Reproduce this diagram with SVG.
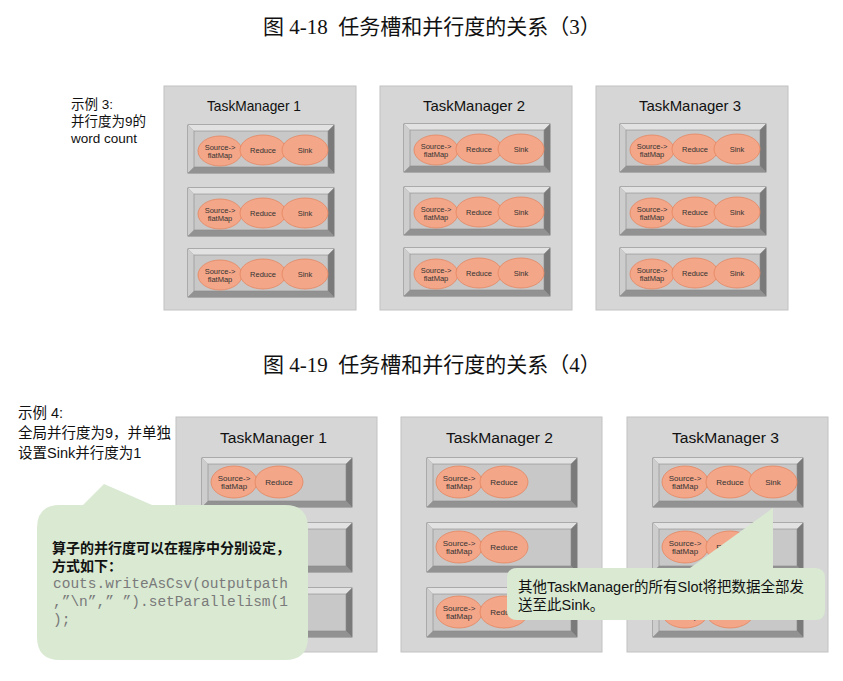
<svg xmlns="http://www.w3.org/2000/svg" xmlns:xlink="http://www.w3.org/1999/xlink" width="843" height="681" viewBox="0 0 843 681">
<style>
.cap{font-family:"Liberation Serif","Noto Sans CJK SC",serif;font-size:21px;fill:#111}
.tm{fill:#d6d6d6;stroke:#c2c2c2;stroke-width:1}
.tt{font-family:"Liberation Sans",Arial,sans-serif;fill:#111}
.bt{fill:#e2e2e2}.bl{fill:#cdcdcd}.br{fill:#7a7a7a}.bb{fill:#929292}
.in{fill:#c8c8c8;stroke:#8a8a8a;stroke-width:.6}
.op{fill:#f4a688;stroke:#e58560;stroke-width:.8}
.ot{font-family:"Liberation Sans",Arial,sans-serif;font-size:7.5px;fill:#333;text-anchor:middle}
.ot2{font-family:"Liberation Sans",Arial,sans-serif;font-size:8px;fill:#333;text-anchor:middle}
.lab{font-family:"Liberation Sans","Noto Sans CJK SC",sans-serif;fill:#111}
.call{fill:#d9e9d2}
.code{font-family:"Liberation Mono","Courier New",monospace;font-size:14.5px;fill:#7a7a7a}
</style>
<defs>
<g id="slotT">
<rect width="146" height="48" fill="#9a9a9a" stroke="#6a6a6a" stroke-width="0.8"/>
<polygon points="0,0 146,0 140,6 6,6" class="bt"/>
<polygon points="0,0 6,6 6,42 0,48" class="bl"/>
<polygon points="146,0 146,48 140,42 140,6" class="br"/>
<polygon points="0,48 146,48 140,42 6,42" class="bb"/>
<rect x="6" y="6" width="134" height="36" class="in"/>
</g>
<g id="slotB">
<rect width="150" height="49" fill="#9a9a9a" stroke="#6a6a6a" stroke-width="0.8"/>
<polygon points="0,0 150,0 144,6 6,6" class="bt"/>
<polygon points="0,0 6,6 6,43 0,49" class="bl"/>
<polygon points="150,0 150,49 144,43 144,6" class="br"/>
<polygon points="0,49 150,49 144,43 6,43" class="bb"/>
<rect x="6" y="6" width="138" height="37" class="in"/>
</g>
<g id="opsT">
<ellipse cx="32" cy="26" rx="22" ry="15" class="op"/>
<text x="32" y="24.5" class="ot">Source-&gt;</text>
<text x="32" y="32.5" class="ot">flatMap</text>
<ellipse cx="75" cy="25" rx="23" ry="15" class="op"/>
<text x="75" y="27.7" class="ot">Reduce</text>
<ellipse cx="117" cy="25" rx="23" ry="15" class="op"/>
<text x="117" y="27.7" class="ot">Sink</text>
</g>
<g id="opsB2">
<ellipse cx="32" cy="24" rx="23" ry="16" class="op"/>
<text x="32" y="22.5" class="ot2">Source-&gt;</text>
<text x="32" y="31" class="ot2">flatMap</text>
<ellipse cx="77" cy="24" rx="24" ry="16" class="op"/>
<text x="77" y="27" class="ot2">Reduce</text>
</g>
<g id="opsB3">
<use xlink:href="#opsB2"/>
<ellipse cx="120" cy="24" rx="24" ry="16" class="op"/>
<text x="120" y="27" class="ot2">Sink</text>
</g>
</defs>

<text x="263" y="34" class="cap" xml:space="preserve">图 4-18  任务槽和并行度的关系（3）</text>
<text x="263" y="372" class="cap" xml:space="preserve">图 4-19  任务槽和并行度的关系（4）</text>

<g id="label3" class="lab" font-size="13.5">
<text x="71" y="109">示例 3:</text>
<text x="71" y="126">并行度为9的</text>
<text x="71" y="143">word count</text>
</g>

<g id="tm-a1">
<rect x="164" y="86" width="192" height="224" class="tm"/>
<text x="207" y="111" class="tt" font-size="15" textLength="94" lengthAdjust="spacingAndGlyphs">TaskManager 1</text>
<g id="a1-s1"><use xlink:href="#slotT" x="188" y="125"/><use xlink:href="#opsT" x="188" y="125"/></g>
<g id="a1-s2"><use xlink:href="#slotT" x="188" y="188"/><use xlink:href="#opsT" x="188" y="188"/></g>
<g id="a1-s3"><use xlink:href="#slotT" x="188" y="249"/><use xlink:href="#opsT" x="188" y="249"/></g>
</g>
<g id="tm-a2">
<rect x="380" y="86" width="192" height="224" class="tm"/>
<text x="423" y="111" class="tt" font-size="15" textLength="102" lengthAdjust="spacingAndGlyphs">TaskManager 2</text>
<g id="a2-s1"><use xlink:href="#slotT" x="404" y="124"/><use xlink:href="#opsT" x="404" y="124"/></g>
<g id="a2-s2"><use xlink:href="#slotT" x="404" y="187"/><use xlink:href="#opsT" x="404" y="187"/></g>
<g id="a2-s3"><use xlink:href="#slotT" x="404" y="248"/><use xlink:href="#opsT" x="404" y="248"/></g>
</g>
<g id="tm-a3">
<rect x="596" y="86" width="192" height="224" class="tm"/>
<text x="639" y="111" class="tt" font-size="15" textLength="102" lengthAdjust="spacingAndGlyphs">TaskManager 3</text>
<g id="a3-s1"><use xlink:href="#slotT" x="620" y="124"/><use xlink:href="#opsT" x="620" y="124"/></g>
<g id="a3-s2"><use xlink:href="#slotT" x="620" y="187"/><use xlink:href="#opsT" x="620" y="187"/></g>
<g id="a3-s3"><use xlink:href="#slotT" x="620" y="248"/><use xlink:href="#opsT" x="620" y="248"/></g>
</g>

<g id="label4" class="lab" font-size="14.5">
<text x="18" y="418">示例 4:</text>
<text x="18" y="438">全局并行度为9，并单独</text>
<text x="18" y="458">设置Sink并行度为1</text>
</g>

<g id="tm-b1">
<rect x="176" y="417" width="201" height="235" class="tm"/>
<text x="220" y="443" class="tt" font-size="15.5" textLength="107" lengthAdjust="spacingAndGlyphs">TaskManager 1</text>
<g id="b1-s1"><use xlink:href="#slotB" x="202" y="458"/><use xlink:href="#opsB2" x="202" y="458"/></g>
<g id="b1-s2"><use xlink:href="#slotB" x="202" y="523"/><use xlink:href="#opsB2" x="202" y="523"/></g>
<g id="b1-s3"><use xlink:href="#slotB" x="202" y="588"/><use xlink:href="#opsB2" x="202" y="588"/></g>
</g>
<g id="tm-b2">
<rect x="401" y="417" width="201" height="235" class="tm"/>
<text x="446" y="443" class="tt" font-size="15.5" textLength="107" lengthAdjust="spacingAndGlyphs">TaskManager 2</text>
<g id="b2-s1"><use xlink:href="#slotB" x="427" y="458"/><use xlink:href="#opsB2" x="427" y="458"/></g>
<g id="b2-s2"><use xlink:href="#slotB" x="427" y="523"/><use xlink:href="#opsB2" x="427" y="523"/></g>
<g id="b2-s3"><use xlink:href="#slotB" x="427" y="588"/><use xlink:href="#opsB2" x="427" y="588"/></g>
</g>
<g id="tm-b3">
<rect x="627" y="417" width="201" height="235" class="tm"/>
<text x="672" y="443" class="tt" font-size="15.5" textLength="107" lengthAdjust="spacingAndGlyphs">TaskManager 3</text>
<g id="b3-s1"><use xlink:href="#slotB" x="653" y="458"/><use xlink:href="#opsB3" x="653" y="458"/></g>
<g id="b3-s2"><use xlink:href="#slotB" x="653" y="523"/><use xlink:href="#opsB2" x="653" y="523"/></g>
<g id="b3-s3"><use xlink:href="#slotB" x="653" y="588"/><use xlink:href="#opsB2" x="653" y="588"/></g>
</g>

<g id="callout1">
<path class="call" d="M60,505 L83,505 L104,484 L152,505 L285,505 Q308,505 308,528 L308,637 Q308,660 285,660 L60,660 Q37,660 37,637 L37,528 Q37,505 60,505 Z"/>
<text x="52" y="553" class="lab" font-size="14" font-weight="bold">算子的并行度可以在程序中分别设定，</text>
<text x="52" y="571" class="lab" font-size="14" font-weight="bold">方式如下：</text>
<text x="53" y="588" class="code">couts.writeAsCsv(outputpath</text>
<text x="53" y="606" class="code">,”\n”,” ”).setParallelism(1</text>
<text x="53" y="624" class="code">);</text>
</g>

<g id="callout2">
<path class="call" d="M517,568 L690,568 L773,508 L773,568 L815,568 Q825,568 825,578 L825,610 Q825,620 815,620 L517,620 Q507,620 507,610 L507,578 Q507,568 517,568 Z"/>
<text x="518" y="592" class="lab" font-size="14.5">其他TaskManager的所有Slot将把数据全部发</text>
<text x="518" y="610" class="lab" font-size="14.5">送至此Sink。</text>
</g>
</svg>
